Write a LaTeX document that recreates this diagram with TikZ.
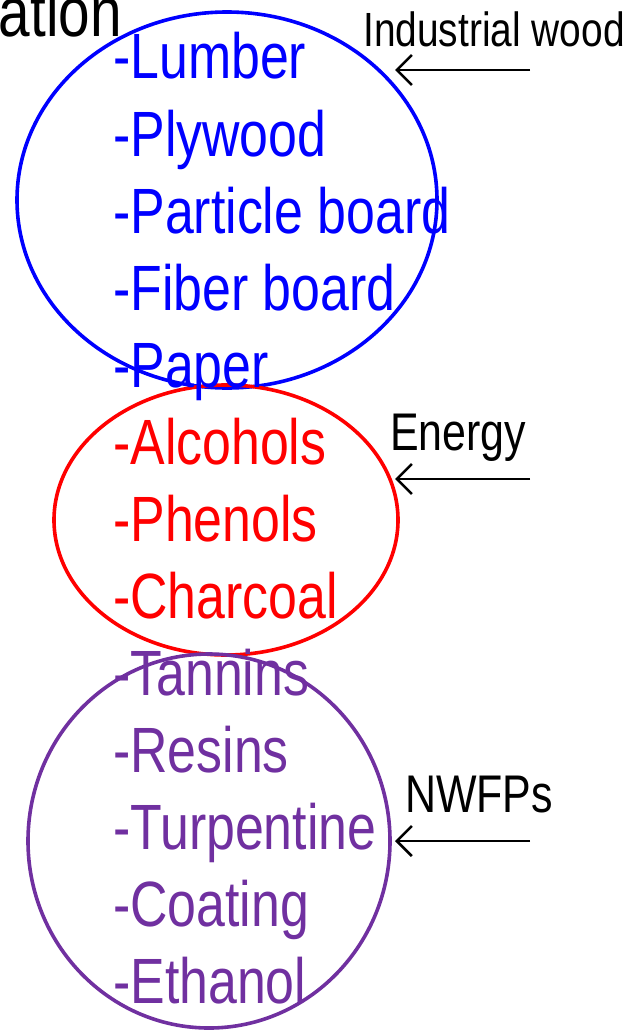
\documentclass[tikz,border=0pt]{standalone}
\usepackage{fontspec}
\setmainfont[FakeStretch=0.81]{Liberation Sans}
\usetikzlibrary{shapes.geometric,arrows.meta}
\definecolor{itemblue}{RGB}{0,0,255}
\definecolor{itemred}{RGB}{255,0,0}
\definecolor{itempurple}{RGB}{112,48,160}
\begin{document}
\begin{tikzpicture}[x=1pt,y=-1pt,
  ring/.style={draw, ellipse, line width=3.6pt, inner sep=0pt},
  item/.style={anchor=base west, inner sep=0pt, font=\fontsize{64}{64}\selectfont},
  lab/.style={anchor=base west, inner sep=0pt, font=\fontsize{48}{48}\selectfont},
  biglab/.style={anchor=base west, inner sep=0pt, font=\fontsize{53}{53}\selectfont},
  pointer/.style={draw=black, line width=2.6pt, -{Straight Barb[length=15pt,width=30pt,line width=2.6pt]}}]
\useasboundingbox (0,0) rectangle (632,1030);
% ellipses
\node[ring, draw=itemblue, minimum width=420pt, minimum height=376pt] (ind) at (227,200) {};
\node[ring, draw=itemred, minimum width=344pt, minimum height=270pt] (ene) at (226,520) {};
\node[ring, draw=itempurple, minimum width=362pt, minimum height=374pt] (nwfp) at (209,841) {};
% title fragment
\node[anchor=base east, inner sep=0pt, font=\fontsize{70}{70}\selectfont] (title) at (122,37) {ation};
% items
\node[item, text=itemblue] (i1) at (113,79) {-Lumber};
\node[item, text=itemblue] (i2) at (113,156) {-Plywood};
\node[item, text=itemblue] (i3) at (113,233) {-Particle board};
\node[item, text=itemblue] (i4) at (113,310) {-Fiber board};
\node[item, text=itemblue] (i5) at (113,387) {-Paper};
\node[item, text=itemred] (i6) at (113,464) {-Alcohols};
\node[item, text=itemred] (i7) at (113,541) {-Phenols};
\node[item, text=itemred] (i8) at (113,618) {-Charcoal};
\node[item, text=itempurple] (i9) at (113,695) {-Tannins};
\node[item, text=itempurple] (i10) at (113,772) {-Resins};
\node[item, text=itempurple] (i11) at (113,849) {-Turpentine};
\node[item, text=itempurple] (i12) at (113,926) {-Coating};
\node[item, text=itempurple] (i13) at (113,1003) {-Ethanol};
% labels
\node[lab] (l1) at (363,47) {Industrial wood};
\node[biglab] (l2) at (390,450) {Energy};
\node[biglab] (l3) at (405,812) {NWFPs};
% arrows
\coordinate (s1) at (530,70);  \coordinate (e1) at (395,70);
\coordinate (s2) at (530,479); \coordinate (e2) at (395,479);
\coordinate (s3) at (530,841); \coordinate (e3) at (395,841);
\draw[pointer] (s1) -- (e1);
\draw[pointer] (s2) -- (e2);
\draw[pointer] (s3) -- (e3);
\end{tikzpicture}
\end{document}
